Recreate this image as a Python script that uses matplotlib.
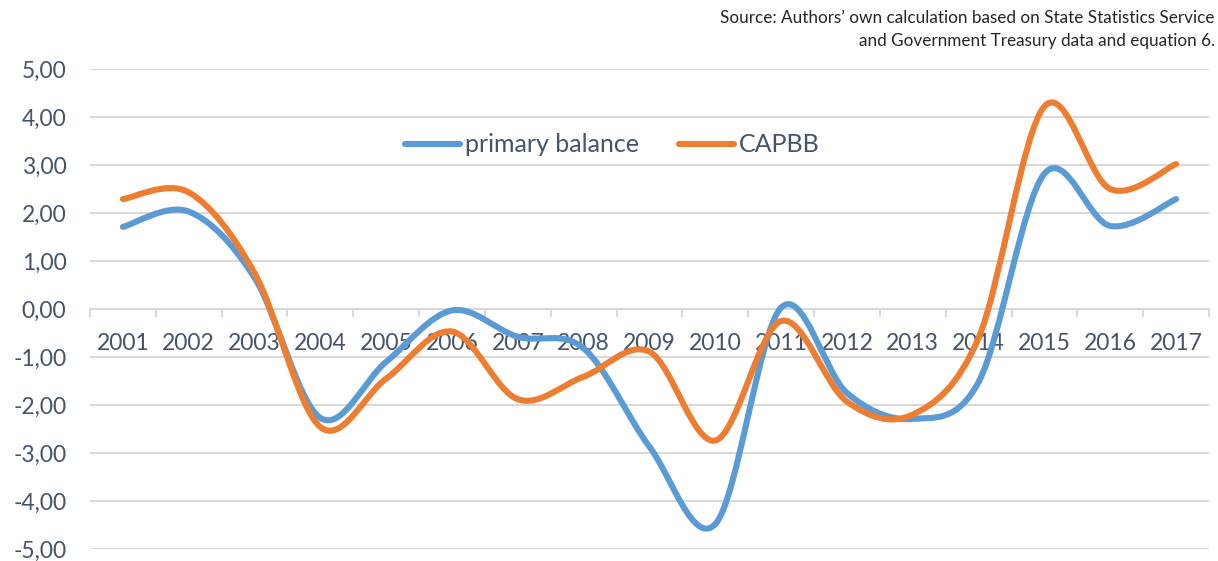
import matplotlib
matplotlib.use("Agg")
import matplotlib.pyplot as plt
from matplotlib.path import Path
from matplotlib.patches import PathPatch
from matplotlib.lines import Line2D
import numpy as np

years = ["2001", "2002", "2003", "2004", "2005", "2006", "2007", "2008", "2009",
         "2010", "2011", "2012", "2013", "2014", "2015", "2016", "2017"]
primary_balance = [1.71, 2.03, 0.65, -2.27, -1.10, -0.03, -0.58, -0.82, -2.87,
                   -4.48, 0.03, -1.75, -2.29, -1.52, 2.82, 1.73, 2.29]
capbb = [2.29, 2.43, 0.75, -2.46, -1.45, -0.47, -1.88, -1.41, -0.89,
         -2.74, -0.25, -1.93, -2.20, -0.60, 4.22, 2.50, 3.02]
y_ticks = [5, 4, 3, 2, 1, 0, -1, -2, -3, -4, -5]

TEXT = "#44546A"
BLUE = "#5B9BD5"
ORANGE = "#ED7D31"
GRID = "#D9D9D9"
plt.rcParams["font.family"] = ["Lato", "DejaVu Sans"]


def smooth_path(xs, ys):
    # Excel-style smoothed line: cubic Bezier through each point
    pts = np.column_stack([xs, ys]).astype(float)
    n = len(pts)
    verts = [pts[0]]
    codes = [Path.MOVETO]
    for i in range(n - 1):
        p0 = pts[i - 1] if i > 0 else pts[i]
        p1 = pts[i]
        p2 = pts[i + 1]
        p3 = pts[i + 2] if i + 2 < n else pts[i + 1]
        verts += [p1 + (p2 - p0) / 6, p2 - (p3 - p1) / 6, p2]
        codes += [Path.CURVE4] * 3
    return Path(verts, codes)


fig = plt.figure(figsize=(12.18, 5.61), dpi=100)
ax = fig.add_axes([0.0739, 0.0214, 0.9187, 0.8556])

x = np.arange(len(years))
for vals, col in [(primary_balance, BLUE), (capbb, ORANGE)]:
    ax.add_patch(PathPatch(smooth_path(x, vals), facecolor="none",
                           edgecolor=col, lw=4.4, capstyle="round",
                           joinstyle="round", zorder=3))

ax.set_xlim(-0.5, len(years) - 0.5)
ax.set_ylim(-5, 5)
ax.set_yticks(y_ticks)
ax.set_yticklabels([f"{v:.2f}".replace(".", ",") for v in y_ticks])
ax.yaxis.grid(True, color=GRID, lw=1.5)
ax.set_axisbelow(True)
ax.tick_params(axis="y", length=0, pad=17, labelsize=16.5, labelcolor=TEXT)

for s in ["top", "right", "left"]:
    ax.spines[s].set_visible(False)
ax.spines["bottom"].set_position(("data", 0))
ax.spines["bottom"].set_color(GRID)
ax.spines["bottom"].set_linewidth(1.5)

ax.set_xticks(x)
ax.set_xticklabels(years)
ax.set_xticks(np.arange(-0.5, len(years) + 0.5, 1), minor=True)
ax.tick_params(axis="x", which="major", length=0, pad=17, labelsize=16.5,
               labelcolor=TEXT)
ax.tick_params(axis="x", which="minor", length=6, width=1.5, color=GRID,
               direction="out")

handles = [Line2D([], [], color=BLUE, lw=4.4, solid_capstyle="round"),
           Line2D([], [], color=ORANGE, lw=4.4, solid_capstyle="round")]
leg = ax.legend(handles, ["primary balance", "CAPBB"], loc="center",
                bbox_to_anchor=(0.467, 0.842), ncol=2, frameon=False,
                fontsize=18, handlelength=2.2, handletextpad=0.2,
                columnspacing=1.6)
for t in leg.get_texts():
    t.set_color(TEXT)

fig.text(0.9975, 0.982,
         "Source: Authors’ own calculation based on State Statistics Service\n"
         "and Government Treasury data and equation 6.",
         ha="right", va="top", multialignment="right", fontsize=12.3,
         color="#262626", linespacing=1.55)

fig.savefig("out.png", dpi=100)
